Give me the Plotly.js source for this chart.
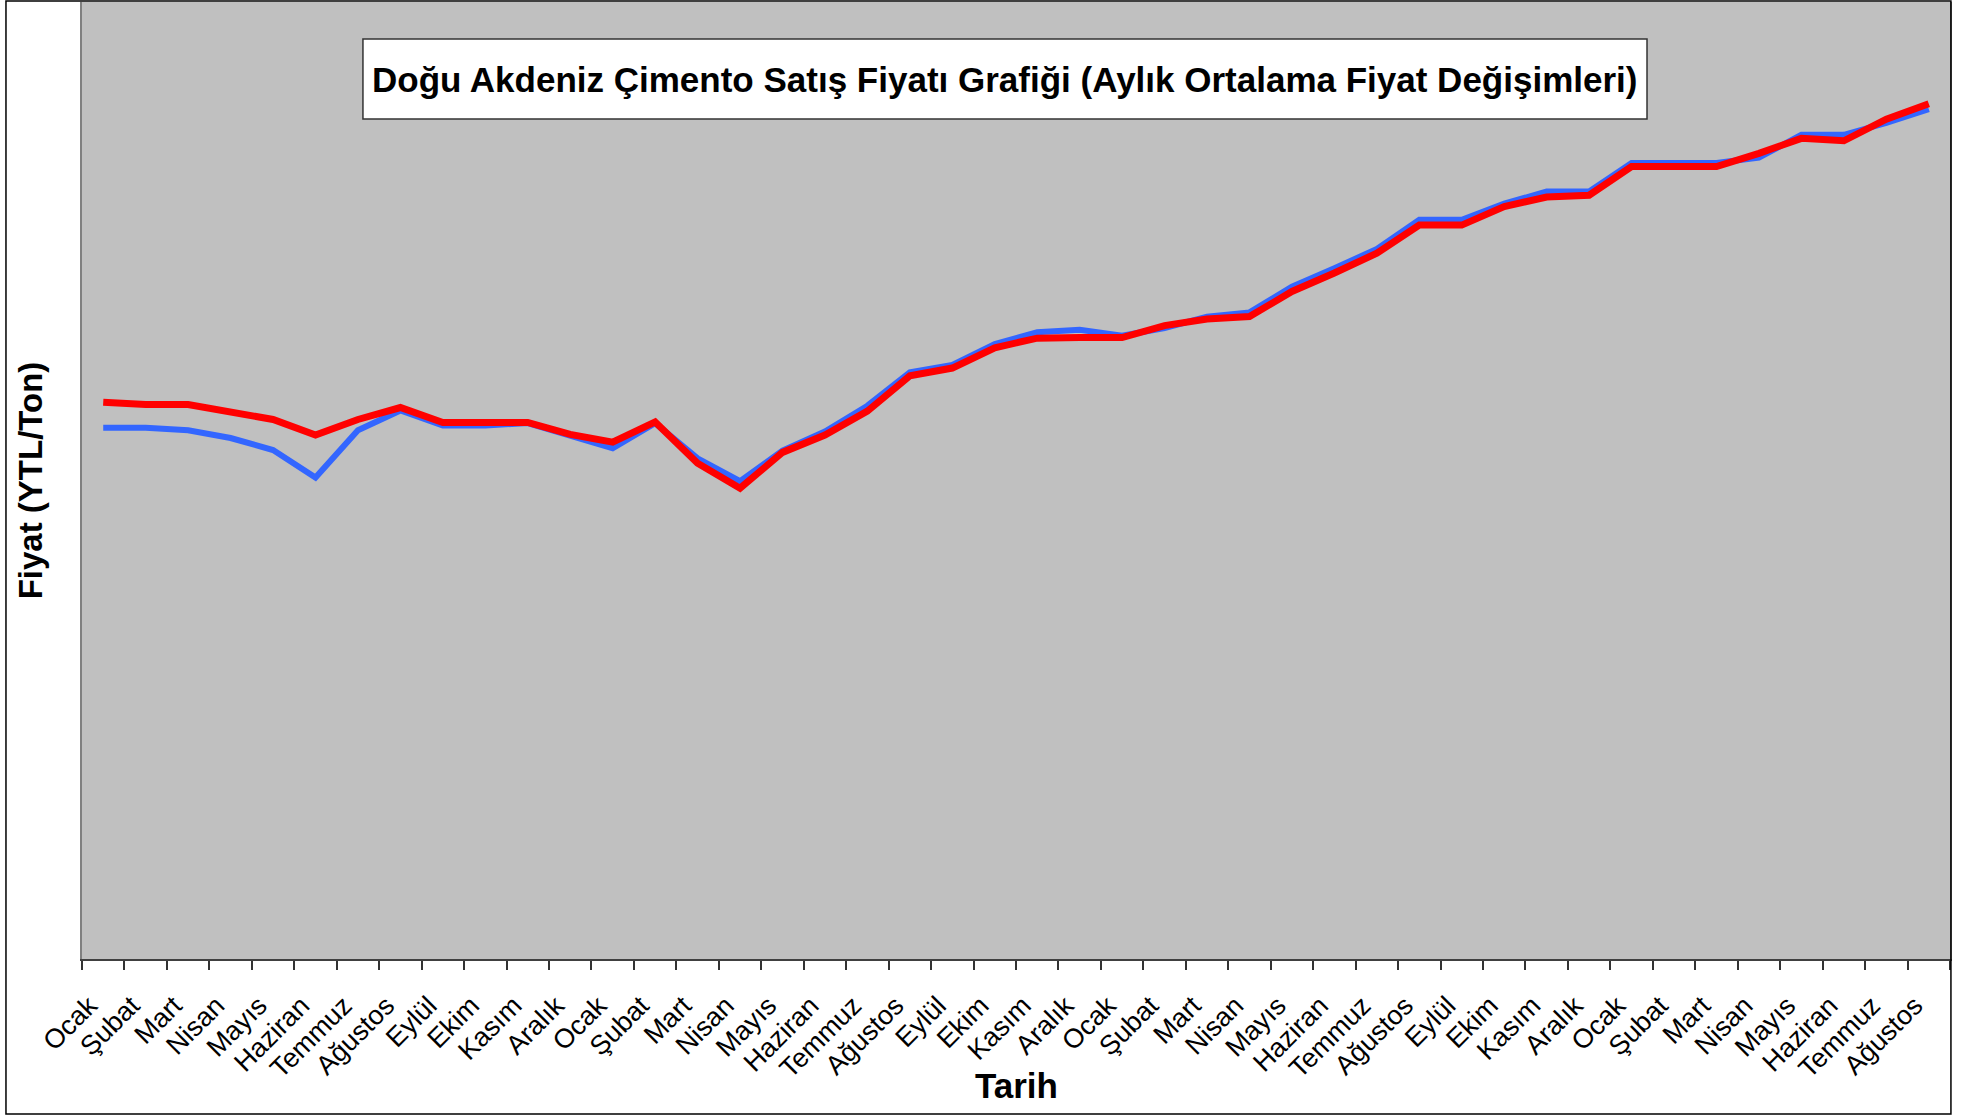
<!DOCTYPE html>
<html>
<head>
<meta charset="utf-8">
<script src="https://cdn.plot.ly/plotly-3.0.1.min.js"></script>
<style>
  html, body { margin: 0; padding: 0; background: #ffffff; }
  #chart { width: 1979px; height: 1117px; }
</style>
</head>
<body>
<div id="chart"></div>
<script>
// Month tick labels (44 months)
const tickLabels = [
  'Ocak','Şubat','Mart','Nisan','Mayıs','Haziran','Temmuz','Ağustos','Eylül','Ekim','Kasım','Aralık',
  'Ocak','Şubat','Mart','Nisan','Mayıs','Haziran','Temmuz','Ağustos','Eylül','Ekim','Kasım','Aralık',
  'Ocak','Şubat','Mart','Nisan','Mayıs','Haziran','Temmuz','Ağustos','Eylül','Ekim','Kasım','Aralık',
  'Ocak','Şubat','Mart','Nisan','Mayıs','Haziran','Temmuz','Ağustos'
];

// Series values (estimated; the y axis carries no labels)
const seriesBlue = [
  88.8, 88.8, 88.4, 87.1, 85.1, 80.5, 88.4, 91.7, 89.2, 89.2,
  89.6, 87.4, 85.4, 89.6, 83.7, 79.9, 85.0, 88.2, 92.5, 98.1,
  99.3, 102.8, 104.8, 105.2, 104.2, 105.5, 107.4, 108.1, 112.4, 115.5,
  118.7, 123.6, 123.6, 126.3, 128.3, 128.3, 133.1, 133.1, 133.1, 134.0,
  137.8, 137.8, 139.8, 142.1
];
const seriesRed = [
  93.1, 92.7, 92.7, 91.5, 90.2, 87.6, 90.2, 92.2, 89.7, 89.7,
  89.7, 87.7, 86.4, 89.8, 82.9, 78.7, 84.7, 87.6, 91.6, 97.5,
  98.8, 102.2, 103.8, 103.9, 103.9, 105.9, 107.0, 107.4, 111.6, 114.7,
  118.0, 122.7, 122.7, 125.8, 127.4, 127.7, 132.5, 132.5, 132.5, 134.7,
  137.2, 136.8, 140.4, 143.0
];

const chartTitle = 'Doğu Akdeniz Çimento Satış Fiyatı Grafiği (Aylık Ortalama Fiyat Değişimleri)';
const xTitle = 'Tarih';
const yTitle = 'Fiyat (YTL/Ton)';

const idx = tickLabels.map((_, i) => i);
const boundaries = tickLabels.map((_, i) => i - 0.5).concat([tickLabels.length - 0.5]);
const xRange = [-0.5, tickLabels.length - 0.5];

const traces = [
  {
    x: idx, y: seriesBlue, type: 'scatter', mode: 'lines', name: 'Seri1',
    line: { color: '#3366FF', width: 6 }, hoverinfo: 'y'
  },
  {
    x: idx, y: seriesRed, type: 'scatter', mode: 'lines', name: 'Seri2',
    line: { color: '#FF0000', width: 7 }, hoverinfo: 'y'
  }
];

const layout = {
  width: 1979, height: 1117,
  margin: { l: 82, r: 29, t: 2, b: 158, pad: 0 },
  paper_bgcolor: '#FFFFFF',
  plot_bgcolor: '#C0C0C0',
  showlegend: false,
  font: { family: 'Liberation Sans, Arial, sans-serif', color: '#000000' },
  xaxis: {
    range: xRange,
    tickmode: 'array', tickvals: idx, ticktext: tickLabels,
    tickangle: -45, ticks: '', ticklabelstandoff: 18, ticklabelshift: -14,
    tickfont: { family: 'Liberation Sans, Arial, sans-serif', size: 27, color: '#000000' },
    minor: {
      tickmode: 'array', tickvals: boundaries,
      ticks: 'outside', ticklen: 9, tickwidth: 2, tickcolor: '#333333', showgrid: false
    },
    showline: true, linecolor: '#404040', linewidth: 2,
    showgrid: false, zeroline: false, fixedrange: true
  },
  yaxis: {
    range: [0, 160],
    showticklabels: false, ticks: '', showgrid: false, zeroline: false,
    showline: true, mirror: true, linecolor: '#808080', linewidth: 2,
    title: {
      text: '<b>' + yTitle + '</b>',
      font: { family: 'Liberation Sans, Arial, sans-serif', size: 33, color: '#000000' },
      standoff: 27
    },
    fixedrange: true
  },
  shapes: [
    {
      type: 'rect', xref: 'paper', yref: 'paper',
      x0: -0.0407, x1: 1.0005, y0: -0.162, y1: 1.001,
      line: { color: '#000000', width: 1.5 }, fillcolor: 'rgba(0,0,0,0)', layer: 'above'
    },
    {
      type: 'rect', xref: 'paper', yref: 'paper',
      x0: 0.1504, x1: 0.8378, y0: 0.8777, y1: 0.9613,
      line: { color: '#333333', width: 1.5 }, fillcolor: '#FFFFFF', layer: 'above'
    }
  ],
  annotations: [
    {
      text: '<b>' + chartTitle + '</b>',
      xref: 'paper', yref: 'paper', x: 0.4941, y: 0.9195,
      xanchor: 'center', yanchor: 'middle', showarrow: false,
      font: { family: 'Liberation Sans Narrow, Arial Narrow, Liberation Sans, sans-serif', size: 35, color: '#000000' }
    },
    {
      text: '<b>' + xTitle + '</b>',
      xref: 'paper', yref: 'paper', x: 0.5, y: -0.1322,
      xanchor: 'center', yanchor: 'middle', showarrow: false,
      font: { family: 'Liberation Sans Narrow, Arial Narrow, Liberation Sans, sans-serif', size: 35, color: '#000000' }
    }
  ]
};

Plotly.newPlot('chart', traces, layout, { displayModeBar: false, staticPlot: true });
</script>
</body>
</html>
